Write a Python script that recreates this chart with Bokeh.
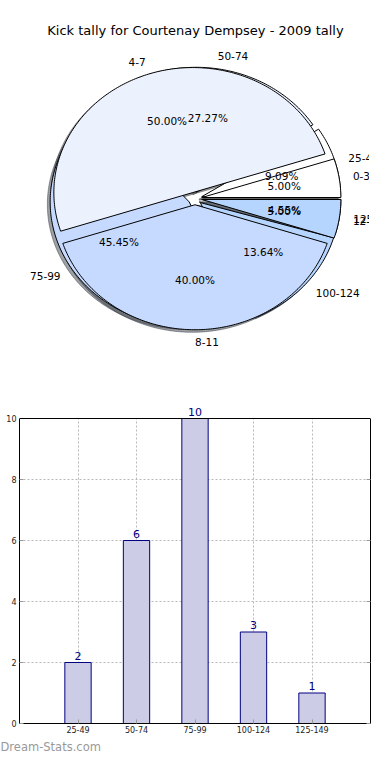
import numpy as np
from bokeh.plotting import figure
from bokeh.models import (ColumnDataSource, Label, LabelSet, FixedTicker, Range1d,
                          LinearAxis, Span)
from bokeh.core.properties import value
from bokeh.layouts import column
from bokeh.embed import file_html
from bokeh.resources import INLINE

# ---------------- data ----------------
title_text = "Kick tally for Courtenay Dempsey - 2009 tally"
distance_labels = ["25-49", "50-74", "75-99", "100-124", "125-149"]
distance_counts = [2, 6, 10, 3, 1]
tally_labels = ["0-3", "4-7", "8-11", "12-15"]
tally_counts = [1, 10, 8, 1]
y_ticks = [0, 2, 4, 6, 8, 10]
y_max = 10
watermark = "Dream-Stats.com"

# ---------------- styles ----------------
pie_colors = ["#ffffff", "#ebf1fd", "#c6d9fe", "#b5d4fe", "#a3c6fb"]
RX, RY = 139.0, 125.0          # pixel radii of the (elliptical) pie
EXPLODE = 0.05
SHADOW = 0.02
FONT = "DejaVu Sans"
LEFT = 19                      # frame left edge (shared by both plots)


def hex_dark(c, f=0.3):
    r, g, b = int(c[1:3], 16), int(c[3:5], 16), int(c[5:7], 16)
    return "#%02x%02x%02x" % (int(r * f), int(g * f), int(b * f))


def pie_parts(labels, counts):
    vals = np.array(counts, dtype=float)
    fr = vals / vals.sum()
    edges = np.concatenate([[0.0], np.cumsum(fr)]) * 2 * np.pi
    xs, ys, cols, sh_x, sh_y, sh_c = [], [], [], [], [], []
    px, py, ptxt = [], [], []
    lx, ly, ltxt, lal = [], [], [], []
    for i in range(len(vals)):
        t1, t2 = edges[i], edges[i + 1]
        tm = 0.5 * (t1 + t2)
        ox, oy = EXPLODE * np.cos(tm), EXPLODE * np.sin(tm)
        ts = np.linspace(t1, t2, max(4, int(abs(t2 - t1) * 60)))
        wx = [ox] + list(ox + np.cos(ts)) + [ox]
        wy = [oy] + list(oy + np.sin(ts)) + [oy]
        c = pie_colors[i % len(pie_colors)]
        xs.append(wx); ys.append(wy); cols.append(c)
        sh_x.append([v - SHADOW for v in wx]); sh_y.append([v - SHADOW for v in wy])
        sh_c.append(hex_dark(c))
        px.append(ox + 0.6 * np.cos(tm)); py.append(oy + 0.6 * np.sin(tm))
        ptxt.append("%.2f%%" % (fr[i] * 100))
        xt = ox + 1.1 * np.cos(tm)
        lx.append(xt); ly.append(oy + 1.1 * np.sin(tm)); ltxt.append(labels[i])
        lal.append("left" if xt > -1e-9 else "right")
    return (dict(xs=xs, ys=ys, c=cols), dict(xs=sh_x, ys=sh_y, c=sh_c),
            dict(x=px, y=py, t=ptxt), dict(x=lx, y=ly, t=ltxt, a=lal))


W1, H1 = 369, 366
CX, CY = 194.5 - LEFT, 198  # pie centre within the frame (px from left / top)
p1 = figure(frame_width=W1, frame_height=H1, output_backend="svg", toolbar_location=None,
            x_range=Range1d(-CX / RX, (W1 - CX) / RX), y_range=Range1d(-(H1 - CY) / RY, CY / RY),
            x_axis_location=None, y_axis_location=None, min_border=0)
p1.grid.visible = False
p1.outline_line_color = None

d_w, d_s, d_p, d_l = pie_parts(distance_labels, distance_counts)
t_w, t_s, t_p, t_l = pie_parts(tally_labels, tally_counts)

for s in (d_s, t_s):
    p1.patches("xs", "ys", source=ColumnDataSource(s), fill_color="c", fill_alpha=0.5,
               line_color="c", line_alpha=0.5, line_width=1)
for w in (d_w, t_w):
    p1.patches("xs", "ys", source=ColumnDataSource(w), fill_color="c",
               line_color="black", line_width=1)
for pct in (d_p, t_p):
    p1.text("x", "y", text="t", source=ColumnDataSource(pct), text_align="center",
            text_baseline="middle", text_font_size="10.5px", text_font=value(FONT),
            text_color="black")
for lab in (d_l, t_l):
    p1.text("x", "y", text="t", source=ColumnDataSource(lab), text_align="a",
            text_baseline="middle", text_font_size="10.5px", text_font=value(FONT),
            text_color="black")

p1.add_layout(Label(x=195 - LEFT, y=H1 - 30, x_units="screen", y_units="screen",
                    text=title_text, text_align="center", text_baseline="middle",
                    text_font_size="13px", text_font=FONT, text_color="black"))

# ---------------- bar chart ----------------
idx = list(range(len(distance_labels)))
bsrc = ColumnDataSource(dict(x=idx, top=distance_counts,
                             t=[str(v) for v in distance_counts]))
PX_PER_UNIT = 30.5
HEAD = 16  # px of head room above the top of the axes box for the value labels
FRAME_TOP = 418
p2 = figure(frame_width=351, frame_height=int(PX_PER_UNIT * y_max) + HEAD,
            output_backend="svg", toolbar_location=None,
            x_range=Range1d(-1, len(idx)), y_range=Range1d(0, y_max + HEAD / PX_PER_UNIT),
            min_border_left=LEFT, min_border_right=4, min_border_top=FRAME_TOP - HEAD - H1,
            min_border_bottom=0)
p2.vbar(x="x", top="top", width=0.45, source=bsrc, fill_color="#ccccE6",
        line_color="#000080", line_width=1)
p2.add_layout(LabelSet(x="x", y="top", text="t", source=bsrc, y_offset=3,
                       text_align="center", text_baseline="bottom", text_font_size="11px",
                       text_font=value(FONT), text_color="#000080"))
p2.add_layout(Span(location=y_max, dimension="width", line_color="black", line_width=1))
p2.outline_line_color = None
right_axis = LinearAxis(bounds=(0, y_max), ticker=FixedTicker(ticks=y_ticks),
                        major_label_text_font_size="1px", major_label_text_alpha=0,
                        major_label_standoff=0)
p2.add_layout(right_axis, "right")
p2.xaxis.ticker = FixedTicker(ticks=idx)
p2.xaxis.major_label_overrides = {i: l for i, l in zip(idx, distance_labels)}
p2.yaxis.ticker = FixedTicker(ticks=y_ticks)
for ax in p2.yaxis:
    ax.bounds = (0, y_max)
for ax in list(p2.xaxis) + list(p2.yaxis):
    ax.axis_line_color = "black"
    ax.axis_line_width = 1
    ax.major_tick_in = 4
    ax.major_tick_out = 0
    ax.major_tick_line_color = "#999999"
    ax.minor_tick_line_color = None
    ax.major_label_text_font = FONT
    ax.major_label_text_color = "#222222"
p2.yaxis[0].major_label_standoff = 3
p2.xaxis.major_label_standoff = 2
p2.yaxis[0].major_label_text_font_size = "8px"
p2.xaxis.major_label_text_font_size = "8px"
p2.grid.grid_line_color = "#b8b8b8"
p2.grid.grid_line_dash = "2 2"
p2.xgrid.cross_bounds = (0, y_max)
p2.title.text = watermark
p2.title_location = "below"
p2.title.align = "left"
p2.title.offset = -LEFT
p2.title.text_color = "#999999"
p2.title.text_font = FONT
p2.title.text_font_size = "11.5px"
p2.title.text_font_style = "normal"
p2.title.standoff = 4

layout = column(p1, p2, spacing=0)
open("out.html", "w").write(file_html(layout, INLINE))
